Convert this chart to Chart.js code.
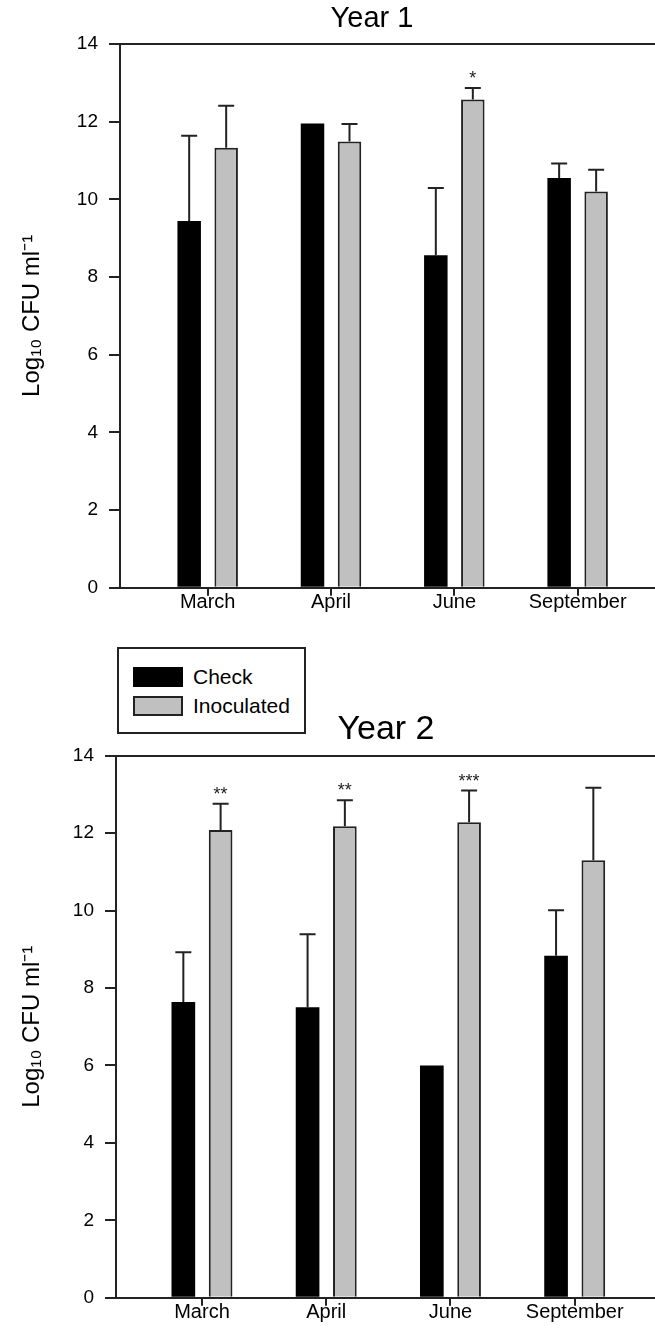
<!DOCTYPE html>
<html>
<head>
<meta charset="utf-8">
<script src="https://cdn.jsdelivr.net/npm/chart.js@4.4.0/dist/chart.umd.min.js"></script>
<style>
	html, body { margin: 0; padding: 0; background: #fff; }
	#wrap { position: relative; width: 655px; height: 1329px; overflow: hidden; font-family: "Liberation Sans", Arial, sans-serif; }
	#chart1 { position: absolute; left: 0; top: 0; }
	#chart2 { position: absolute; left: 0; top: 640px; }
	#legend { position: absolute; left: 117px; top: 647px; width: 189px; height: 87px; box-sizing: border-box;
		border: 2px solid #222; padding: 13px 0 0 14px; background: #fff; }
	.item { display: flex; align-items: center; height: 29px; font-size: 21px; color: #000; }
	.swatch { width: 50px; height: 20px; box-sizing: border-box; margin-right: 10px; }
</style>
</head>
<body>
<div id="wrap">
	<canvas id="chart1" width="744" height="640"></canvas>
	<canvas id="chart2" width="772" height="689"></canvas>
	<div id="legend"></div>
</div>
<script>
var months = ["March", "April", "June", "September"];
var yTicks = [0, 2, 4, 6, 8, 10, 12, 14];

var year1Check = [9.44, 11.95, 8.56, 10.55];
var year1CheckErr = [2.20, 0, 1.73, 0.37];
var year1Inoc = [11.33, 11.49, 12.57, 10.20];
var year1InocErr = [1.08, 0.45, 0.30, 0.56];
var year1Sig = ["", "", "*", ""];

var year2Check = [7.64, 7.50, 6.00, 8.83];
var year2CheckErr = [1.28, 1.89, 0, 1.18];
var year2Inoc = [12.08, 12.18, 12.28, 11.30];
var year2InocErr = [0.68, 0.67, 0.82, 1.87];
var year2Sig = ["**", "**", "***", ""];

var fontFamily = '"Liberation Sans", Arial, sans-serif';
Chart.defaults.font.family = fontFamily;

function toPoints(values) {
	return values.map(function (v, i) { return { x: i + 1, y: v }; });
}

// upper error whiskers + significance stars
var errorBars = {
	id: 'errorBars',
	afterDatasetsDraw: function (chart) {
		var ctx = chart.ctx;
		var yScale = chart.scales.y;
		ctx.save();
		ctx.strokeStyle = '#222';
		ctx.fillStyle = '#222';
		ctx.lineWidth = 2;
		ctx.font = '18px ' + fontFamily;
		ctx.textAlign = 'center';
		ctx.textBaseline = 'alphabetic';
		chart.data.datasets.forEach(function (ds, d) {
			var meta = chart.getDatasetMeta(d);
			meta.data.forEach(function (bar, i) {
				var err = ds.errors[i];
				var yTop = yScale.getPixelForValue(ds.data[i].y + err);
				if (err) {
					ctx.beginPath();
					ctx.moveTo(bar.x, bar.y);
					ctx.lineTo(bar.x, yTop);
					ctx.moveTo(bar.x - 8, yTop);
					ctx.lineTo(bar.x + 8, yTop);
					ctx.stroke();
				}
				if (ds.marks && ds.marks[i]) {
					ctx.fillText(ds.marks[i], bar.x, yTop - 4);
				}
			});
		});
		ctx.restore();
	}
};

function makeChart(id, title, check, checkErr, inoc, inocErr, sig, lay) {
	return new Chart(document.getElementById(id), {
		type: 'bar',
		data: {
			datasets: [{
				label: 'Check',
				data: toPoints(check),
				errors: checkErr,
				backgroundColor: '#000',
				borderWidth: 0,
				categoryPercentage: 0.6,
				barPercentage: 0.635
			}, {
				label: 'Inoculated',
				data: toPoints(inoc),
				errors: inocErr,
				marks: sig,
				backgroundColor: '#c0c0c0',
				borderColor: '#222',
				borderWidth: 2,
				categoryPercentage: 0.6,
				barPercentage: 0.635
			}]
		},
		plugins: [errorBars],
		options: {
			responsive: false,
			maintainAspectRatio: false,
			animation: false,
			layout: { padding: 0 },
			plugins: {
				legend: { display: false },
				tooltip: { enabled: false },
				title: {
					display: true,
					text: title,
					color: '#000',
					font: { size: lay.titleSize, weight: 'normal' },
					padding: { top: lay.titleTop, bottom: lay.titleBottom }
				}
			},
			scales: {
				x: {
					type: 'linear',
					offset: false,
					min: lay.xMin,
					max: lay.xMax,
					afterBuildTicks: function (scale) {
						scale.ticks = months.map(function (m, i) { return { value: i + 1 }; });
					},
					afterFit: function (scale) { scale.height = lay.xHeight; },
					ticks: {
						callback: function (v, i) { return months[i]; },
						color: '#000',
						font: { size: 20, lineHeight: 1 },
						padding: -3,
						maxRotation: 0,
						autoSkip: false
					},
					grid: { offset: false, drawOnChartArea: false, tickLength: 8, tickColor: '#222', lineWidth: 2 },
					border: { color: '#222', width: 2 }
				},
				y: {
					min: 0,
					max: 14,
					afterBuildTicks: function (scale) {
						scale.ticks = yTicks.map(function (v) { return { value: v }; });
					},
					afterFit: function (scale) { scale.width = lay.yWidth; },
					ticks: { color: '#000', font: { size: 19 }, padding: 11 },
					grid: {
						color: function (c) { return c.tick && c.tick.value === 14 ? '#222' : 'rgba(0,0,0,0)'; },
						tickColor: '#222',
						tickLength: 11,
						lineWidth: 2
					},
					border: { color: '#222', width: 2 },
					title: {
						display: true,
						text: 'Log₁₀ CFU ml⁻¹',
						color: '#000',
						font: { size: 24 },
						padding: { top: 18, bottom: 0 }
					}
				}
			}
		}
	});
}

var chart1 = makeChart('chart1', 'Year 1', year1Check, year1CheckErr, year1Inoc, year1InocErr, year1Sig,
	{ titleSize: 29, titleTop: 2, titleBottom: 7.2, xMin: 0.289, xMax: 5.349, xHeight: 52.3, yWidth: 120 });

var chart2 = makeChart('chart2', 'Year 2', year2Check, year2CheckErr, year2Inoc, year2InocErr, year2Sig,
	{ titleSize: 34, titleTop: 69.4, titleBottom: 5.5, xMin: 0.308, xMax: 5.588, xHeight: 31.3, yWidth: 116 });

// legend box built from the year 2 datasets
var legend = document.getElementById('legend');
chart2.data.datasets.forEach(function (ds) {
	var item = document.createElement('div');
	item.className = 'item';
	var sw = document.createElement('span');
	sw.className = 'swatch';
	sw.style.background = ds.backgroundColor;
	if (ds.borderWidth) sw.style.border = ds.borderWidth + 'px solid ' + ds.borderColor;
	item.appendChild(sw);
	item.appendChild(document.createTextNode(ds.label));
	legend.appendChild(item);
});
</script>
</body>
</html>
